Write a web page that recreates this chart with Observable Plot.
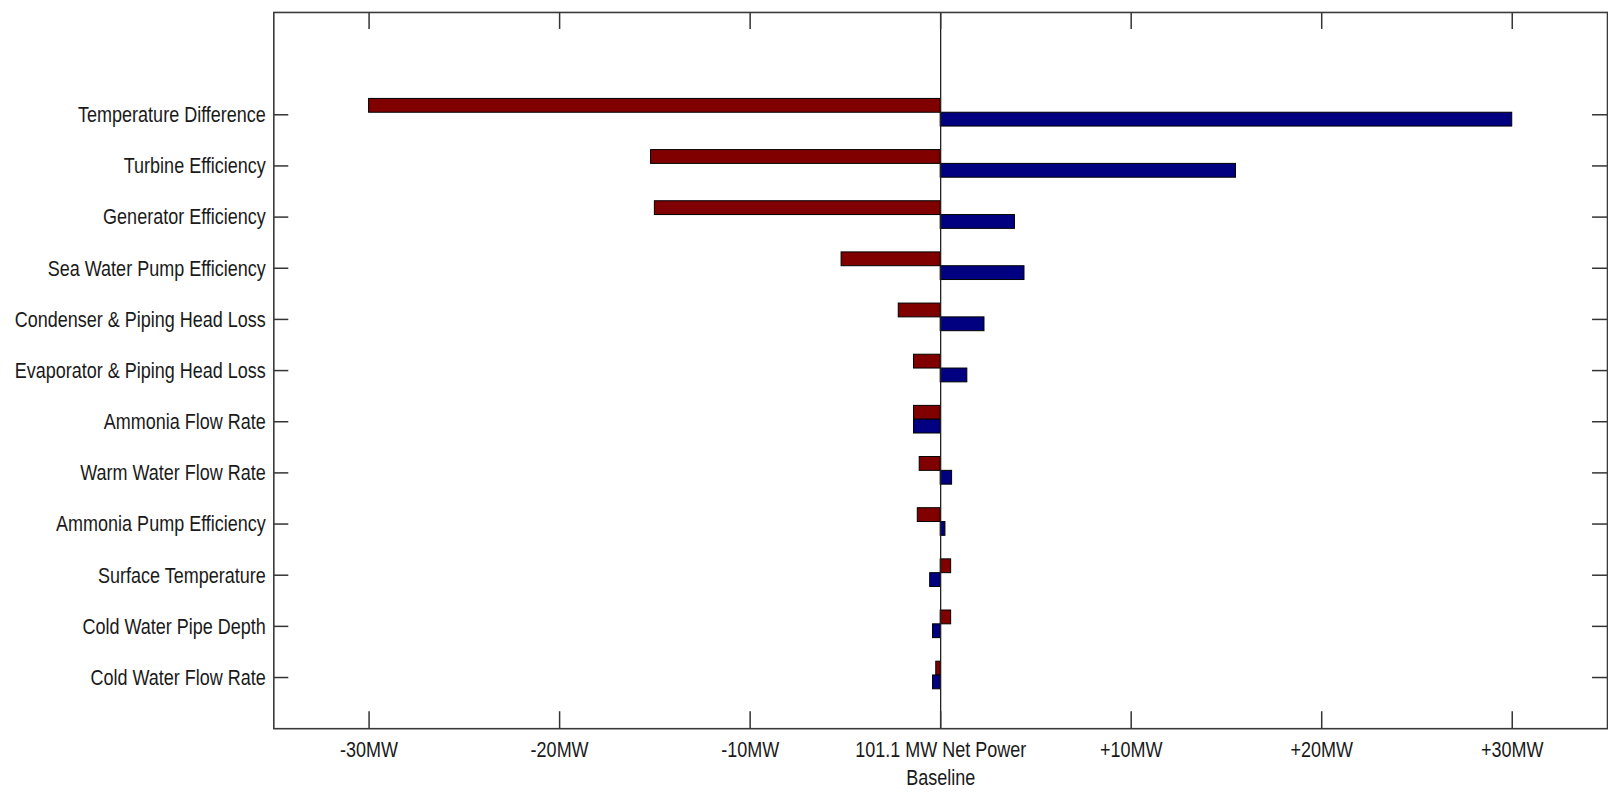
<!DOCTYPE html>
<html>
<head>
<meta charset="utf-8">
<script src="https://cdn.jsdelivr.net/npm/d3@7"></script>
<script src="https://cdn.jsdelivr.net/npm/@observablehq/plot@0.6"></script>
<style>
  html, body { margin: 0; padding: 0; background: #fff; overflow: hidden; }
  #chart svg { display: block; }
</style>
</head>
<body>
<div id="chart"></div>
<script>
// ---- data ----
const categories = [
  "Temperature Difference",
  "Turbine Efficiency",
  "Generator Efficiency",
  "Sea Water Pump Efficiency",
  "Condenser & Piping Head Loss",
  "Evaporator & Piping Head Loss",
  "Ammonia Flow Rate",
  "Warm Water Flow Rate",
  "Ammonia Pump Efficiency",
  "Surface Temperature",
  "Cold Water Pipe Depth",
  "Cold Water Flow Rate"
];
// change in net power (MW), dark red (upper) bar of each pair
const upperSeries = [-30.0, -15.2, -15.0, -5.2, -2.2, -1.4, -1.4, -1.1, -1.2, 0.55, 0.55, -0.23];
// change in net power (MW), dark blue (lower) bar of each pair
const lowerSeries = [30.0, 15.5, 3.9, 4.4, 2.3, 1.4, -1.4, 0.6, 0.25, -0.55, -0.4, -0.4];

const xTickValues = [-30, -20, -10, 0, 10, 20, 30];
const xTickLabels = ["-30MW", "-20MW", "-10MW", "101.1 MW Net Power\nBaseline", "+10MW", "+20MW", "+30MW"];

// ---- font choice (condensed look) ----
const ctx = document.createElement("canvas").getContext("2d");
function measure(fam, size, s) { ctx.font = `${size}px ${fam}`; return ctx.measureText(s).width; }
function hasFont(name) {
  const s = "Condenser & Piping Head Loss";
  return Math.abs(measure(`"${name}", monospace`, 22, s) - measure("monospace", 22, s)) > 0.5;
}
let family = "Liberation Sans";
for (const f of ["Liberation Sans Narrow", "Arial Narrow", "Liberation Sans", "Arial"]) {
  if (hasFont(f)) { family = f; break; }
}
const fontSize = 23;
const targetWidth = 252; // width of the longest label in the picture
const textScale = targetWidth / measure(`"${family}"`, fontSize, "Condenser & Piping Head Loss");

// ---- layout ----
const W = 1612, H = 793, mL = 274, mR = 1, mT = 12, mB = 63;
const innerW = W - mL - mR, innerH = H - mT - mB;
const n = categories.length;
const positions = categories.map((c, i) => n - i);

const rows = categories.flatMap((c, i) => {
  const p = n - i;
  return [
    {cat: c, series: "upper", value: upperSeries[i], y1: p + 0.04, y2: p + 0.31},
    {cat: c, series: "lower", value: lowerSeries[i], y1: p - 0.23, y2: p + 0.04}
  ];
});

const chart = Plot.plot({
  width: W,
  height: H,
  marginLeft: mL,
  marginRight: mR,
  marginTop: mT,
  marginBottom: mB,
  style: {fontFamily: `"${family}", sans-serif`, fontSize: `${fontSize}px`, color: "#1a1a1a", background: "#fff"},
  x: {domain: [-35, 35], label: null},
  y: {domain: [0, 14], label: null},
  color: {type: "categorical", domain: ["upper", "lower"], range: ["#800000", "#000080"]},
  marks: [
    Plot.rect(rows, {x1: 0, x2: "value", y1: "y1", y2: "y2", fill: "series", stroke: "#000", strokeWidth: 1}),
    Plot.ruleX([0], {stroke: "#222", strokeWidth: 1.3}),
    Plot.tickX(xTickValues, {x: d => d, insetTop: innerH - 17, stroke: "#333", strokeWidth: 1.5}),
    Plot.tickX(xTickValues, {x: d => d, insetBottom: innerH - 17, stroke: "#333", strokeWidth: 1.5}),
    Plot.tickY(positions, {y: d => d, insetRight: innerW - 15, stroke: "#333", strokeWidth: 1.5}),
    Plot.tickY(positions, {y: d => d, insetLeft: innerW - 15, stroke: "#333", strokeWidth: 1.5}),
    Plot.frame({stroke: "#3a3a3a", strokeWidth: 1.6}),
    Plot.axisY({anchor: "left", ticks: positions, tickFormat: p => categories[n - p], tickSize: 0, tickPadding: 8, fill: "#1a1a1a"}),
    Plot.axisX({anchor: "bottom", ticks: xTickValues, tickFormat: v => xTickLabels[xTickValues.indexOf(v)], tickSize: 0, tickPadding: 9, lineHeight: 1.2, fill: "#1a1a1a"})
  ]
});

document.getElementById("chart").appendChild(chart);

// horizontally condense the tick labels to match the narrow lettering
if (Math.abs(textScale - 1) > 0.02) {
  chart.querySelectorAll('g[aria-label="y-axis tick label"] text, g[aria-label="x-axis tick label"] text').forEach(el => {
    const t = el.getAttribute("transform") || "";
    el.setAttribute("transform", `${t} scale(${textScale.toFixed(3)},1)`);
  });
}
</script>
</body>
</html>
